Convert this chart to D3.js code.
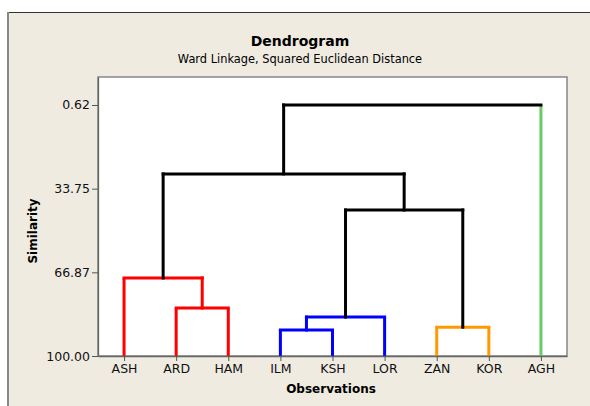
<!DOCTYPE html>
<html>
<head>
<meta charset="utf-8">
<script src="https://cdn.jsdelivr.net/npm/d3@7"></script>
<style>
  body { margin: 0; background: #fff; }
  svg { display: block; font-family: "DejaVu Sans", Verdana, sans-serif; }
</style>
</head>
<body>
<svg id="chart" width="590" height="406"></svg>
<script>
// leaves in display order
const leaves = ["ASH", "ARD", "HAM", "ILM", "KSH", "LOR", "ZAN", "KOR", "AGH"];
const leafColors = ["#ff0000", "#ff0000", "#ff0000", "#0000ff", "#0000ff", "#0000ff", "#ff9900", "#ff9900", "#66cc66"];
// merges: [left child, right child, similarity, colour] ; c<i> = merge i
const mergeLeft  = ["ARD", "ASH", "ILM", "c2",  "ZAN", "c3", "c1", "c6"];
const mergeRight = ["HAM", "c0",  "KSH", "LOR", "KOR", "c4", "c5", "AGH"];
const mergeSim   = [81.0, 69.1, 89.7, 84.6, 88.6, 42.2, 27.9, 0.62];
const mergeColor = ["#ff0000", "#ff0000", "#0000ff", "#0000ff", "#ff9900", "#000000", "#000000", "#000000"];
const yTicks = [0.62, 33.75, 66.87, 100.00];

const svg = d3.select("#chart");
const plot = {left: 98, right: 567, top: 77, bottom: 356};

// beige frame
svg.append("rect").attr("x", 8).attr("y", 12).attr("width", 600).attr("height", 420)
    .attr("fill", "#efebe1");
svg.append("line").attr("x1", 7).attr("x2", 590).attr("y1", 12.5).attr("y2", 12.5)
    .attr("stroke", "#333").attr("stroke-width", 1.2);
svg.append("line").attr("x1", 8).attr("x2", 8).attr("y1", 12).attr("y2", 406)
    .attr("stroke", "#888").attr("stroke-width", 2);

// plot area
svg.append("rect").attr("x", plot.left).attr("y", plot.top)
    .attr("width", plot.right - plot.left).attr("height", plot.bottom - plot.top)
    .attr("fill", "#fff").attr("stroke", "#777").attr("stroke-width", 1.3);

const x = d3.scalePoint().domain(leaves).range([plot.left, plot.right]).padding(0.5);
const y = d3.scaleLinear().domain([100, -10.46]).range([plot.bottom, plot.top]);

// compute node positions
const pos = {};
leaves.forEach((l, i) => pos[l] = {x: x(l), sim: 100, leaf: true, color: leafColors[i]});
mergeSim.forEach((s, i) => {
  const a = pos[mergeLeft[i]], b = pos[mergeRight[i]];
  pos["c" + i] = {x: (a.x + b.x) / 2, sim: s, leaf: false};
});

const g = svg.append("g").attr("fill", "none").attr("stroke-width", 3).attr("stroke-linecap", "square");
mergeSim.forEach((s, i) => {
  const a = pos[mergeLeft[i]], b = pos[mergeRight[i]];
  [a, b].forEach(c => {
    g.append("path")
      .attr("d", `M${c.x},${y(c.sim)}V${y(s)}`)
      .attr("stroke-linecap", c.leaf ? "butt" : "square")
      .attr("stroke", c.leaf ? c.color : mergeColor[i]);
  });
  g.append("path")
    .attr("d", `M${a.x},${y(s)}H${b.x}`)
    .attr("stroke", mergeColor[i]);
});

// axes
const yAxis = svg.append("g").attr("transform", `translate(${plot.left},0)`)
  .call(d3.axisLeft(y).tickValues(yTicks).tickFormat(d3.format(".2f")).tickSize(6).tickSizeOuter(0));
const xAxis = svg.append("g").attr("transform", `translate(0,${plot.bottom})`)
  .call(d3.axisBottom(x).tickSize(5).tickSizeOuter(0));
[yAxis, xAxis].forEach(ax => {
  ax.select(".domain").attr("stroke", "#666").attr("stroke-width", 1.3);
  ax.selectAll(".tick line").attr("stroke", "#555");
  ax.selectAll(".tick text").attr("fill", "#111").style("font-size", "12.5px")
    .style("font-family", "'DejaVu Sans', Verdana, sans-serif");
});
yAxis.selectAll(".tick text").attr("x", -8);
xAxis.selectAll(".tick text").attr("y", 8);

// titles
svg.append("text").attr("x", 300).attr("y", 46).attr("text-anchor", "middle")
  .style("font-size", "14px").style("font-weight", "bold").text("Dendrogram");
svg.append("text").attr("x", 300).attr("y", 63).attr("text-anchor", "middle")
  .style("font-size", "11.4px").text("Ward Linkage, Squared Euclidean Distance");
svg.append("text").attr("x", 331).attr("y", 393).attr("text-anchor", "middle")
  .style("font-size", "12px").style("font-weight", "bold").text("Observations");
svg.append("text").attr("transform", "translate(37,231) rotate(-90)").attr("text-anchor", "middle")
  .style("font-size", "12px").style("font-weight", "bold").text("Similarity");
</script>
</body>
</html>
